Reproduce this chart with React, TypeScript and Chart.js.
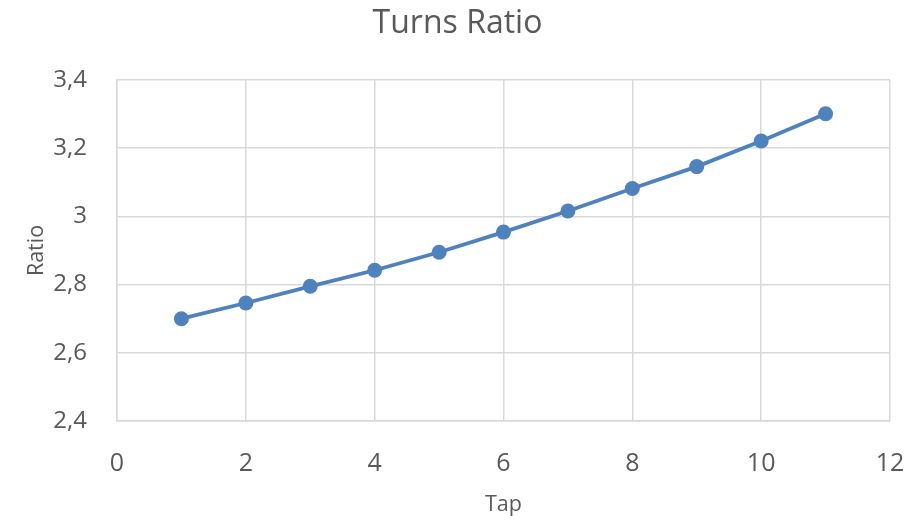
import React, { useEffect, useRef } from "react";
import { Chart, registerables } from "chart.js";

Chart.register(...registerables);

// Tap positions and the measured turns ratio at each tap
const taps = [1, 2, 3, 4, 5, 6, 7, 8, 9, 10, 11];
const ratios = [2.7, 2.746, 2.795, 2.842, 2.895, 2.954, 3.016, 3.082, 3.146, 3.221, 3.301];

// Axis ranges and tick steps
const xRange = [0, 12];
const xStep = 2;
const yRange = [2.4, 3.4];
const yStep = 0.2;

const textColor = "#595959";
const gridColor = "#d9d9d9";
const lineColor = "#4f81bd";
const fontFamily = "'Open Sans', 'DejaVu Sans', sans-serif";

export default function App() {
  const canvasRef = useRef<HTMLCanvasElement | null>(null);

  useEffect(() => {
    const canvas = canvasRef.current;
    if (!canvas) return;

    const chart = new Chart(canvas, {
      type: "scatter",
      data: {
        datasets: [
          {
            label: "Ratio",
            data: taps.map((t, i) => ({ x: t, y: ratios[i] })),
            showLine: true,
            borderColor: lineColor,
            backgroundColor: lineColor,
            borderWidth: 3.8,
            pointRadius: 7.5,
            pointBorderWidth: 0,
            pointBackgroundColor: lineColor,
          },
        ],
      },
      options: {
        responsive: false,
        animation: false,
        layout: { padding: 0 },
        plugins: {
          legend: { display: false },
          tooltip: { enabled: false },
          title: {
            display: true,
            text: "Turns Ratio",
            color: textColor,
            font: { family: fontFamily, size: 32, weight: "normal" },
            padding: { top: 5, bottom: 36.6 },
          },
        },
        scales: {
          x: {
            type: "linear",
            min: xRange[0],
            max: xRange[1],
            afterFit: (scale: any) => {
              scale.height = 99;
              scale.paddingLeft = 0;
              scale.paddingRight = 25;
            },
            ticks: {
              stepSize: xStep,
              color: textColor,
              padding: 28,
              font: { family: fontFamily, size: 25 },
            },
            grid: { color: gridColor, lineWidth: 1.5, drawTicks: false },
            border: { color: gridColor, width: 1.5 },
            title: {
              display: true,
              text: "Tap",
              color: textColor,
              font: { family: fontFamily, size: 21.5 },
              padding: { top: 0, bottom: 2 },
            },
          },
          y: {
            type: "linear",
            min: yRange[0],
            max: yRange[1],
            afterFit: (scale: any) => {
              scale.width = 117;
              scale.paddingTop = 0;
              scale.paddingBottom = 0;
            },
            ticks: {
              stepSize: yStep,
              color: textColor,
              padding: 30,
              font: { family: fontFamily, size: 24 },
              callback: (v: any) => {
                const n = Math.round(Number(v) * 10) / 10;
                return String(n).replace(".", ",");
              },
            },
            grid: { color: gridColor, lineWidth: 1.5, drawTicks: false },
            border: { color: gridColor, width: 1.5 },
            title: {
              display: true,
              text: "Ratio",
              color: textColor,
              font: { family: fontFamily, size: 21.5 },
              padding: { top: 24, bottom: 0 },
            },
          },
        },
      },
    });

    return () => chart.destroy();
  }, []);

  return (
    <div style={{ position: "absolute", left: 0, top: 0, width: 915, height: 520, background: "#ffffff" }}>
      <canvas ref={canvasRef} width={915} height={520} />
    </div>
  );
}
